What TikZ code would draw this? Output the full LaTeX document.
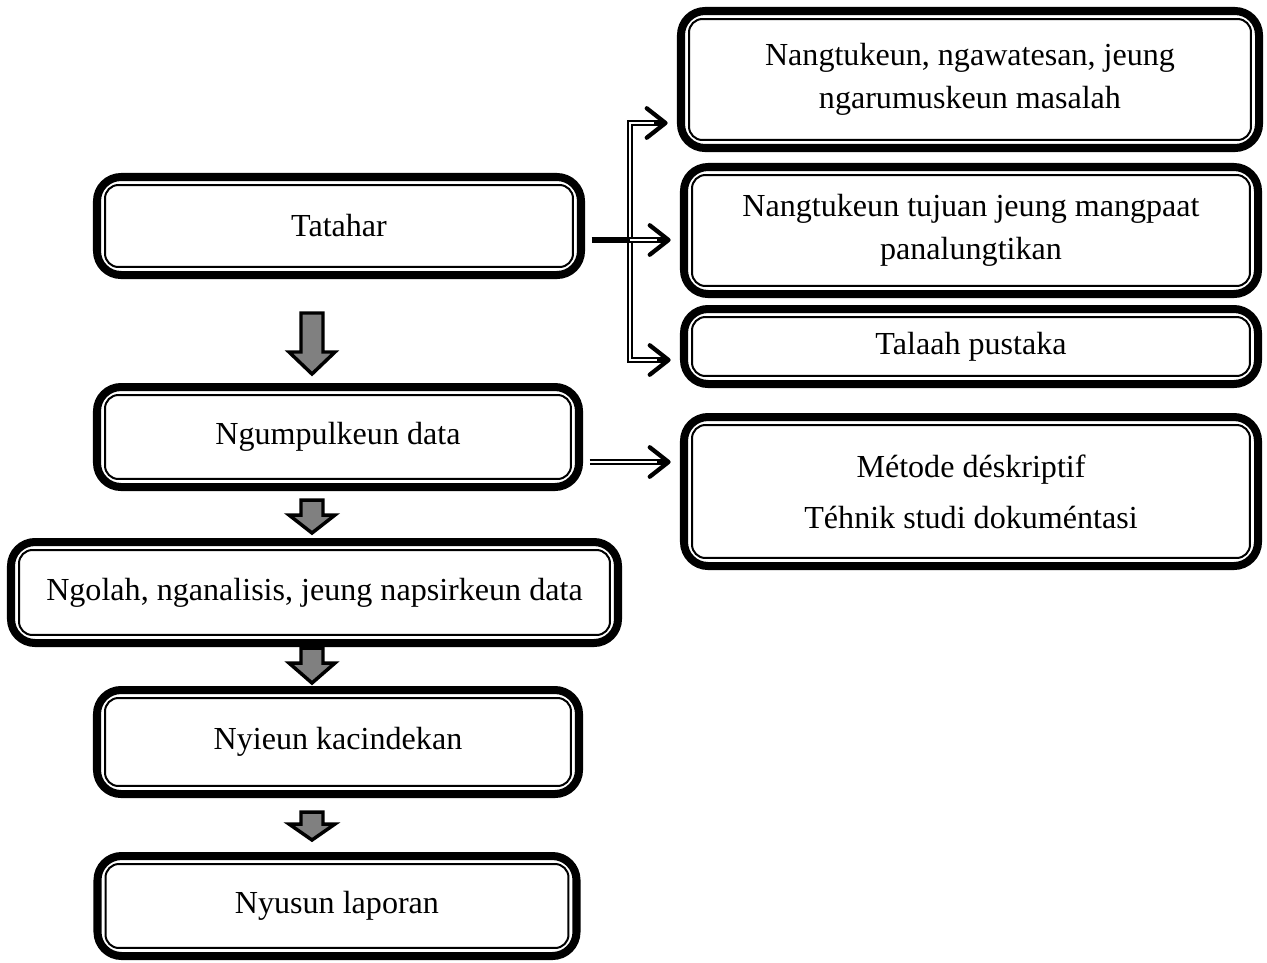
\documentclass[tikz,border=0pt]{standalone}
\usepackage{fontspec}
\setmainfont{Liberation Serif}
\usetikzlibrary{arrows.meta}

\newcommand{\unitpx}{0.374pt}

\tikzset{
  stepbox/.style={draw, line width=3pt, rounded corners=9pt, inner sep=0pt, outer sep=0pt,
    align=center, font=\fontsize{12}{16}\selectfont},
  innerline/.style={line width=0.75pt, rounded corners=5pt},
  dline/.style={line width=1.9pt, shorten >=5pt,
    -{Straight Barb[length=7pt, width=11pt, line width=1.6pt, round]},
    postaction={draw=white, line width=0.7pt, -, shorten >=10pt}},
  thickline/.style={line width=2.6pt},
  blockarrow/.style={draw=black, fill=gray, line width=1.3pt, line join=miter}
}

\begin{document}
\begin{tikzpicture}[x=\unitpx, y=-\unitpx]
    \useasboundingbox (0,0) rectangle (1267,962);

    % 1. Main steps (left column)
    \node[stepbox, minimum width=484*\unitpx, minimum height=98*\unitpx] (tatahar) at (339,226) {Tatahar};
    \node[stepbox, minimum width=482*\unitpx, minimum height=100*\unitpx] (ngumpul) at (338,437) {Ngumpulkeun data};
    \node[stepbox, minimum width=607*\unitpx, minimum height=101*\unitpx] (ngolah) at (314.5,592.5) {Ngolah, nganalisis, jeung napsirkeun data};
    \node[stepbox, minimum width=482*\unitpx, minimum height=104*\unitpx] (nyieun) at (338,742) {Nyieun kacindekan};
    \node[stepbox, minimum width=479*\unitpx, minimum height=100*\unitpx] (nyusun) at (337,906) {Nyusun laporan};

    % 2. Detail boxes (right column)
    \node[stepbox, minimum width=578*\unitpx, minimum height=137*\unitpx] (masalah) at (970,79.5) {Nangtukeun, ngawatesan, jeung\\ngarumuskeun masalah};
    \node[stepbox, minimum width=574*\unitpx, minimum height=127*\unitpx] (tujuan) at (971,230.5) {Nangtukeun tujuan jeung mangpaat\\panalungtikan};
    \node[stepbox, minimum width=574*\unitpx, minimum height=75*\unitpx] (talaah) at (971,346.5) {Talaah pustaka};
    \node[stepbox, minimum width=574*\unitpx, minimum height=149*\unitpx] (metode) at (971,491.5) {M\'etode d\'eskriptif\\[3pt]T\'ehnik studi dokum\'entasi};

    % 3. Inner thin border of every box
    \foreach \n in {tatahar,ngumpul,ngolah,nyieun,nyusun,masalah,tujuan,talaah,metode} {
        \draw[innerline] ([shift={(3pt,-3pt)}]\n.north west) rectangle ([shift={(-3pt,3pt)}]\n.south east);
    }

    % 4. Block arrows between the main steps
    \foreach \ytop/\yneck/\ytip in {313/352/374, 500/515/533, 648/663/683, 812/824/840} {
        \filldraw[blockarrow] (301,\ytop) -- (323,\ytop) -- (323,\yneck) -- (335,\yneck)
            -- (312,\ytip) -- (289,\yneck) -- (301,\yneck) -- cycle;
    }

    % 5. Branch from Tatahar to the detail boxes
    \coordinate (split) at (630,240);
    \draw[dline] (split) |- (masalah.west |- 0,123);
    \draw[dline] (split) |- (talaah.west |- 0,360);
    \draw[dline] (split) -- (tujuan.west |- split);
    \draw[thickline, shorten <=4pt] (tatahar.east |- split) -- (split);

    % 6. Ngumpulkeun data to the method box
    \draw[dline, shorten <=4pt] (ngumpul.east |- 0,462) -- (metode.west |- 0,462);
\end{tikzpicture}
\end{document}
